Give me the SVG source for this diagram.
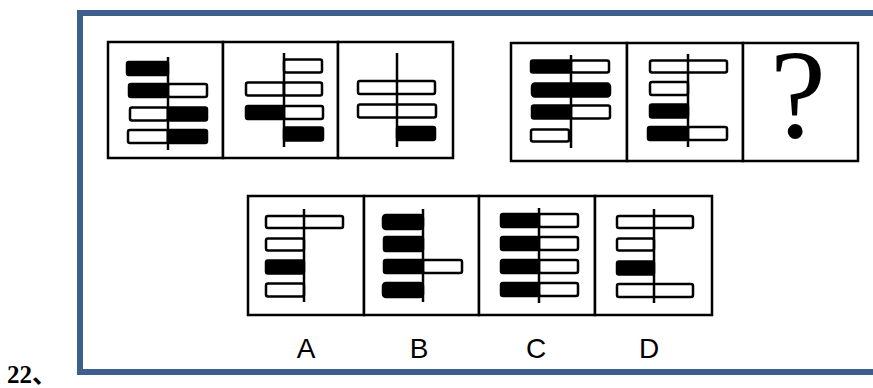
<svg xmlns="http://www.w3.org/2000/svg" width="873" height="388" viewBox="0 0 873 388">
<style>
.frame{fill:none;stroke:#3e5f8e;stroke-width:6}
.cell{fill:#fff;stroke:#000;stroke-width:2.5}
.w{fill:#fff;stroke:#000;stroke-width:2.5}
.b{fill:#000;stroke:#000;stroke-width:2.5}
.ax{stroke:#000;stroke-width:2.5;fill:none}
.lbl{font-family:"Liberation Sans",Arial,sans-serif;font-size:28px;fill:#000;text-anchor:middle}
</style>
<rect width="873" height="388" fill="#fff"/>
<rect class="frame" x="80" y="13" width="800" height="359"/>
<text x="7" y="383" font-family="'Liberation Serif','Noto Sans CJK SC',serif" font-weight="bold" font-size="25">22、</text>

<g id="panel1">
<rect class="cell" x="108" y="42" width="115" height="116"/>
<rect class="b" x="127" y="62" width="41" height="13" rx="2"/>
<rect class="b" x="129" y="84" width="39" height="13" rx="2"/>
<rect class="w" x="168" y="84" width="39" height="13" rx="2"/>
<rect class="w" x="130" y="107.5" width="38" height="13" rx="2"/>
<rect class="b" x="168" y="107.5" width="39" height="13" rx="2"/>
<rect class="w" x="128" y="130" width="40" height="13" rx="2"/>
<rect class="b" x="168" y="130" width="39" height="13" rx="2"/>
<line class="ax" x1="168" y1="57" x2="168" y2="150"/>
</g>

<g id="panel2">
<rect class="cell" x="223" y="42" width="115" height="116"/>
<rect class="w" x="284" y="59.5" width="38" height="13" rx="2"/>
<rect class="w" x="246" y="82.5" width="38" height="13" rx="2"/>
<rect class="w" x="284" y="82.5" width="38" height="13" rx="2"/>
<rect class="b" x="246" y="106" width="38" height="13" rx="2"/>
<rect class="w" x="284" y="106" width="39" height="13" rx="2"/>
<rect class="b" x="284" y="127.5" width="39" height="13" rx="2"/>
<line class="ax" x1="284" y1="53" x2="284" y2="147"/>
</g>

<g id="panel3">
<rect class="cell" x="338" y="42" width="115" height="116"/>
<rect class="w" x="358" y="81" width="77" height="13" rx="2"/>
<rect class="w" x="358" y="104.5" width="78" height="13" rx="2"/>
<rect class="b" x="397" y="127" width="38" height="13" rx="2"/>
<line class="ax" x1="397" y1="53" x2="397" y2="147"/>
</g>

<g id="panel4">
<rect class="cell" x="511" y="43" width="116" height="118"/>
<rect class="b" x="531" y="60.5" width="40" height="12" rx="2"/>
<rect class="w" x="571" y="60.5" width="38" height="12" rx="2"/>
<rect class="b" x="532" y="83.5" width="78" height="13" rx="3"/>
<rect class="b" x="532" y="105.5" width="39" height="13" rx="2"/>
<rect class="w" x="571" y="105.5" width="39" height="13" rx="2"/>
<rect class="w" x="531" y="129.5" width="38" height="12" rx="2"/>
<line class="ax" x1="571" y1="55" x2="571" y2="148"/>
</g>

<g id="panel5">
<rect class="cell" x="627" y="43" width="116" height="118"/>
<rect class="w" x="650" y="60.5" width="77" height="12" rx="2"/>
<rect class="w" x="650" y="82" width="38" height="13" rx="2"/>
<rect class="b" x="650" y="104.5" width="38" height="13" rx="2"/>
<rect class="b" x="648" y="127" width="40" height="13" rx="2"/>
<rect class="w" x="688" y="127" width="39" height="13" rx="2"/>
<line class="ax" x1="688" y1="54" x2="688" y2="147"/>
</g>

<g id="panel6">
<rect class="cell" x="743" y="43" width="115" height="118"/>
<text x="798" y="137" font-family="'Liberation Serif','Times New Roman',serif" font-size="126" text-anchor="middle">?</text>
</g>

<g id="optionA">
<rect class="cell" x="248" y="196" width="116" height="119"/>
<rect class="w" x="266" y="216" width="77" height="12" rx="2"/>
<rect class="w" x="266" y="238.5" width="38" height="12" rx="2"/>
<rect class="b" x="266" y="260.5" width="38" height="13" rx="2"/>
<rect class="w" x="266" y="283.5" width="38" height="13" rx="2"/>
<line class="ax" x1="304" y1="209" x2="304" y2="302"/>
</g>

<g id="optionB">
<rect class="cell" x="364" y="196" width="115" height="119"/>
<rect class="b" x="383" y="215" width="40" height="14" rx="3"/>
<rect class="b" x="384" y="237" width="39" height="14" rx="2"/>
<rect class="b" x="384" y="260" width="39" height="13" rx="2"/>
<rect class="w" x="423" y="260" width="39" height="13" rx="2"/>
<rect class="b" x="383" y="283" width="40" height="14" rx="3"/>
<line class="ax" x1="423" y1="209" x2="423" y2="302"/>
</g>

<g id="optionC">
<rect class="cell" x="479" y="196" width="116" height="119"/>
<rect class="b" x="501" y="214" width="38" height="13" rx="2"/>
<rect class="w" x="539" y="214" width="39" height="13" rx="2"/>
<rect class="b" x="501" y="237" width="38" height="13" rx="2"/>
<rect class="w" x="539" y="237" width="39" height="13" rx="2"/>
<rect class="b" x="501" y="260" width="38" height="13" rx="2"/>
<rect class="w" x="539" y="260" width="39" height="13" rx="2"/>
<rect class="b" x="501" y="283" width="38" height="13" rx="2"/>
<rect class="w" x="539" y="283" width="39" height="13" rx="2"/>
<line class="ax" x1="539" y1="208" x2="539" y2="303"/>
</g>

<g id="optionD">
<rect class="cell" x="595" y="196" width="117" height="119"/>
<rect class="w" x="617" y="216" width="76" height="12" rx="2"/>
<rect class="w" x="617" y="238.5" width="37" height="12" rx="2"/>
<rect class="b" x="617" y="261.5" width="37" height="13" rx="2"/>
<rect class="w" x="617" y="284" width="76" height="13" rx="2"/>
<line class="ax" x1="654" y1="209" x2="654" y2="303"/>
</g>

<g id="labels">
<text class="lbl" x="306" y="358">A</text>
<text class="lbl" x="419" y="358">B</text>
<text class="lbl" x="536" y="358">C</text>
<text class="lbl" x="649" y="358">D</text>
</g>
</svg>
